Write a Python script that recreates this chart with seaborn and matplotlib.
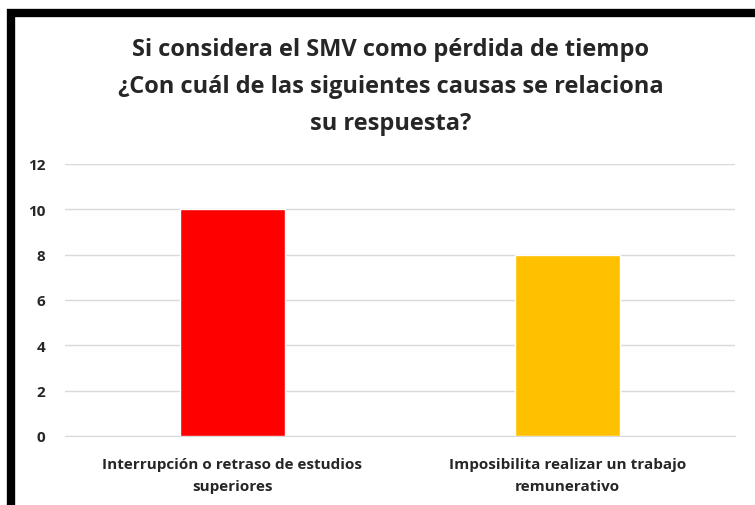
import matplotlib
matplotlib.use("Agg")
import matplotlib.pyplot as plt
import matplotlib.patches as mpatches
import seaborn as sns
import pandas as pd

# Datos del gráfico
causas = ["Interrupción o retraso de estudios\nsuperiores",
          "Imposibilita realizar un trabajo\nremunerativo"]
respuestas = [10, 8]
colores = ["#FF0000", "#FFC000"]

df = pd.DataFrame({"causa": causas, "n": respuestas})

sns.set_style("white")
plt.rcParams["font.family"] = ["Open Sans", "DejaVu Sans"]

fig = plt.figure(figsize=(7.55, 5.06), dpi=100)
ax = fig.add_axes([65 / 755, 1 - 437 / 506, 670 / 755, (437 - 165) / 506])

sns.barplot(data=df, x="causa", y="n", hue="causa", palette=colores,
            width=0.316, legend=False, saturation=1, ax=ax, zorder=3)

ax.set_ylim(0, 12)
ax.set_yticks(range(0, 13, 2))
ax.yaxis.grid(True, color="#D9D9D9", linewidth=1, zorder=0)
ax.set_axisbelow(True)
for s in ["top", "right", "left"]:
    ax.spines[s].set_visible(False)
ax.spines["bottom"].set_color("#D9D9D9")
ax.set_xlabel("")
ax.set_ylabel("")
ax.tick_params(axis="both", length=0, colors="#262626", labelsize=11)
ax.tick_params(axis="y", pad=14)
ax.tick_params(axis="x", pad=15)
for lbl in ax.get_xticklabels() + ax.get_yticklabels():
    lbl.set_fontweight("bold")
    lbl.set_linespacing(1.7)

fig.text(0.517, 1 - 87 / 506,
         "Si considera el SMV como pérdida de tiempo\n"
         "¿Con cuál de las siguientes causas se relaciona\n"
         "su respuesta?",
         ha="center", va="center", fontsize=17, fontweight="bold",
         color="#262626", linespacing=1.72)

# marco negro del gráfico
marco = mpatches.Rectangle((11 / 755, -0.2), 1.2, 0.2 + (1 - 14 / 506),
                           transform=fig.transFigure, fill=False,
                           edgecolor="black", linewidth=6, clip_on=False)
fig.patches.append(marco)

fig.savefig("out.png", dpi=100)
